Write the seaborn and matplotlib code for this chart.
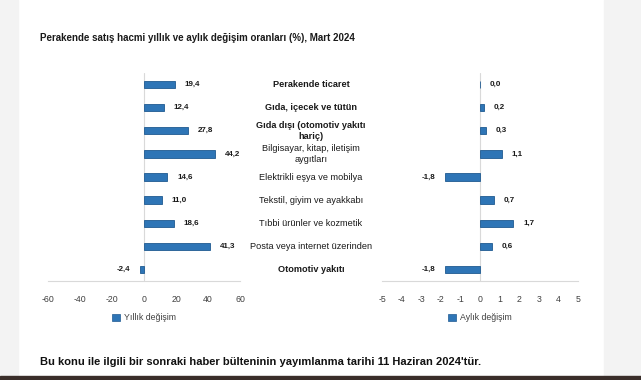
import matplotlib
matplotlib.use("Agg")
import matplotlib.pyplot as plt
import matplotlib.transforms as mtransforms
from matplotlib.patches import Rectangle, Patch
import seaborn as sb

sb.set_style("white")
plt.rcParams['font.family'] = ['Liberation Sans', 'DejaVu Sans']

categories = [
    "Perakende ticaret",
    "Gıda, içecek ve tütün",
    "Gıda dışı (otomotiv yakıtı\nhariç)",
    "Bilgisayar, kitap, iletişim\naygıtları",
    "Elektrikli eşya ve mobilya",
    "Tekstil, giyim ve ayakkabı",
    "Tıbbi ürünler ve kozmetik",
    "Posta veya internet üzerinden",
    "Otomotiv yakıtı",
]
bold_rows = [True, True, True, False, False, False, False, False, True]
yillik = [19.4, 12.4, 27.8, 44.2, 14.6, 11.0, 18.6, 41.3, -2.4]
aylik = [0.0, 0.2, 0.3, 1.1, -1.8, 0.7, 1.7, 0.6, -1.8]
yillik_ticks = [-60, -40, -20, 0, 20, 40, 60]
aylik_ticks = [-5, -4, -3, -2, -1, 0, 1, 2, 3, 4, 5]

title = "Perakende satış hacmi yıllık ve aylık değişim oranları (%), Mart 2024"
footer = "Bu konu ile ilgili bir sonraki haber bülteninin yayımlanma tarihi 11 Haziran 2024'tür."

barColor = '#2E75B6'
W, H = 641, 380

fig = plt.figure(figsize=(W / 100, H / 100), dpi=100)
fig.patch.set_facecolor('white')

# side panels / bottom strip of the web page
fig.add_artist(Rectangle((0, 0), 18 / W, 1, transform=fig.transFigure, color='#f3f3f3', zorder=0))
fig.add_artist(Rectangle((604 / W, 0), 1 - 604 / W, 1, transform=fig.transFigure, color='#f3f3f3', zorder=0))
fig.add_artist(Rectangle((0, 0), 1, 4 / H, transform=fig.transFigure, color='#3a2e2a', zorder=5))

axTop = 73
axBot = 281
hFrac = (axBot - axTop) / H
yFrac = 1 - axBot / H

ax1 = fig.add_axes([48 / W, yFrac, 192 / W, hFrac])
ax2 = fig.add_axes([382 / W, yFrac, 196 / W, hFrac])

for ax, vals, ticks, lab in [(ax1, yillik, yillik_ticks, "Yıllık değişim"),
                             (ax2, aylik, aylik_ticks, "Aylık değişim")]:
    sb.barplot(x=vals, y=list(range(len(vals))), orient='h', ax=ax, color=barColor,
               width=0.32, edgecolor='#1f5a91', linewidth=0.6, saturation=1, native_scale=False)
    ax.set_xlim(ticks[0], ticks[-1])
    ax.set_ylim(len(vals) - 0.5, -0.5)
    ax.set_xticks(ticks)
    ax.set_xticklabels([str(t) for t in ticks])
    ax.tick_params(axis='x', length=0, pad=10, labelsize=6.3, labelcolor='#404040')
    ax.set_yticks([])
    ax.set_ylabel("")
    ax.set_xlabel("")
    for s in ['top', 'right', 'left']:
        ax.spines[s].set_visible(False)
    ax.spines['bottom'].set_color('#d9d9d9')
    ax.spines['bottom'].set_linewidth(0.8)
    ax.axvline(0, color='#d9d9d9', linewidth=0.8, zorder=0)
    ax.patch.set_alpha(0)
    labels = [("%.1f" % v).replace('.', ',') for v in vals]
    ax.bar_label(ax.containers[0], labels=labels, padding=7, fontsize=5.8,
                 fontweight='bold', color='#1a1a1a')
    ax.legend(handles=[Patch(facecolor=barColor, edgecolor='#1f5a91', linewidth=0.5)],
              labels=[lab], loc='center', bbox_to_anchor=(0.5, -(318 - axBot) / (axBot - axTop)),
              frameon=False, fontsize=6.3, handlelength=0.9, handleheight=0.9,
              handletextpad=0.4, labelcolor='#404040')

# category labels in the middle
trans = mtransforms.blended_transform_factory(ax1.transAxes, ax1.transData)
for i, (c, b) in enumerate(zip(categories, bold_rows)):
    ax1.text((311 - 48) / 192, i, c, transform=trans, ha='center', va='center',
             fontsize=6.6, fontweight='bold' if b else 'normal', color='#1a1a1a',
             linespacing=1.35, clip_on=False)

fig.text(40 / W, 1 - 38 / H, title, ha='left', va='center', fontsize=7, fontweight='bold', color='#1a1a1a')
fig.text(40 / W, 1 - 362 / H, footer, ha='left', va='center', fontsize=8.0, fontweight='bold', color='#111111')

plt.savefig("out.png", dpi=100)
